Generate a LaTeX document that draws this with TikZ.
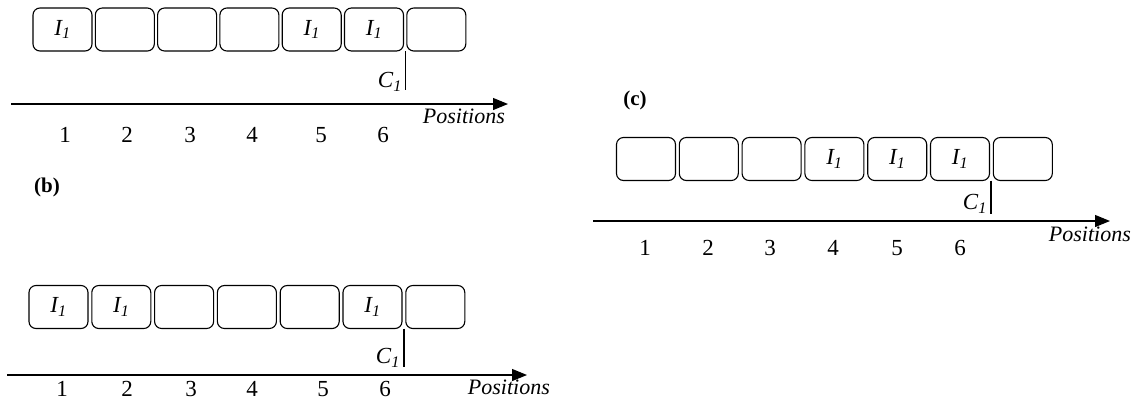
\documentclass[tikz,border=0pt]{standalone}
\usepackage{fontspec}
\setmainfont{Liberation Serif}
\usetikzlibrary{arrows.meta}
\newcommand\Ione{\textit{I\textsubscript{1}}}
\newcommand\Cone{\textit{C\textsubscript{1}}}
\begin{document}
\begin{tikzpicture}[x=1pt,y=-1pt, font=\fontsize{23}{27}\selectfont,
  cell/.style={draw, line width=1.1pt, rounded corners=7pt, minimum width=59pt, minimum height=43pt, inner sep=0pt},
  axisline/.style={line width=1.2pt, -{Triangle[length=15pt,width=12pt]}},
  cline/.style={line width=1.1pt},
  lbl/.style={inner sep=0pt},
  poslbl/.style={inner sep=0pt, anchor=east, font=\fontsize{22}{26}\selectfont\itshape},
  panellbl/.style={inner sep=0pt, font=\fontsize{21}{25}\selectfont\bfseries}]
\useasboundingbox (0,0) rectangle (1135,400);

% ---------- panel (a) ----------
\foreach \i/\t in {1/\Ione,2/,3/,4/,5/\Ione,6/\Ione,7/}
  \node[cell] (a\i) at ({62.5+(\i-1)*62.3},29.5) {\t};
\coordinate (ac1) at (405.5,51);
\coordinate (ac2) at (405.5,90);
\draw[cline] (ac1) -- (ac2);
\node[lbl, anchor=east] (aC) at (402,82) {\Cone};
\coordinate (ax0) at (11,104);
\coordinate (ax1) at (508,104);
\draw[axisline] (ax0) -- (ax1);
\node[poslbl] (aP) at (505,116) {Positions};
\foreach \n/\x in {1/65,2/127,3/190,4/252,5/321,6/383}
  \node[lbl] (an\n) at (\x,135) {\n};

% ---------- panel (b) ----------
\node[panellbl] (bl) at (47,187) {(b)};
\foreach \i/\t in {1/\Ione,2/\Ione,3/,4/,5/,6/\Ione,7/}
  \node[cell] (b\i) at ({58.5+(\i-1)*62.8},307) {\t};
\coordinate (bc1) at (404,328.5);
\coordinate (bc2) at (404,367);
\draw[cline] (bc1) -- (bc2);
\node[lbl, anchor=east] (bC) at (400,358) {\Cone};
\coordinate (bx0) at (7,375);
\coordinate (bx1) at (527,375);
\draw[axisline] (bx0) -- (bx1);
\node[poslbl] (bP) at (550,387) {Positions};
\foreach \n/\x in {1/62,2/127,3/191,4/252,5/323,6/385}
  \node[lbl] (bn\n) at (\x,389) {\n};

% ---------- panel (c) ----------
\node[panellbl] (cl) at (635,100) {(c)};
\foreach \i/\t in {1/,2/,3/,4/\Ione,5/\Ione,6/\Ione,7/}
  \node[cell] (c\i) at ({646+(\i-1)*62.8},159) {\t};
\coordinate (cc1) at (991,180.5);
\coordinate (cc2) at (991,214);
\draw[cline] (cc1) -- (cc2);
\node[lbl, anchor=east] (cC) at (987,204) {\Cone};
\coordinate (cx0) at (593,221);
\coordinate (cx1) at (1110,221);
\draw[axisline] (cx0) -- (cx1);
\node[poslbl] (cP) at (1131,234) {Positions};
\foreach \n/\x in {1/645,2/708,3/770,4/833,5/897,6/960}
  \node[lbl] (cn\n) at (\x,248) {\n};
\end{tikzpicture}
\end{document}
